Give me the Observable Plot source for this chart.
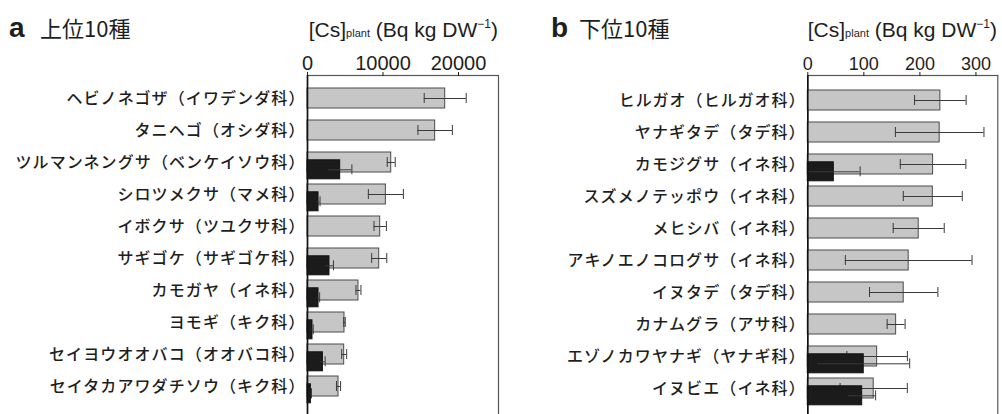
<!DOCTYPE html>
<html><head><meta charset="utf-8">
<script src="https://cdn.jsdelivr.net/npm/d3@7"></script>
<script src="https://cdn.jsdelivr.net/npm/@observablehq/plot@0.6"></script>
<style>
html,body{margin:0;padding:0;background:#fff;overflow:hidden}
#wrap{position:relative;width:1002px;height:414px;overflow:hidden}
#pa,#pb{position:absolute;top:0}
#pa{left:0}#pb{left:501px}
#over{position:absolute;left:0;top:0}
#over text{fill:#1e1e1e;font-family:"Liberation Sans","Noto Sans CJK JP",sans-serif}
g[aria-label="y-axis tick label"] text{letter-spacing:1.1px;font-weight:500}
</style></head><body>
<div id="wrap">
<div id="pa"></div><div id="pb"></div>
<svg id="over" width="1002" height="414">
  <text x="9" y="37" font-size="28" font-weight="bold">a</text>
  <text x="40" y="37" font-size="22" style="font-family:'Noto Sans CJK JP','Liberation Sans'">上位10種</text>
  <text x="551" y="37" font-size="28" font-weight="bold">b</text>
  <text x="579" y="37" font-size="22" style="font-family:'Noto Sans CJK JP','Liberation Sans'">下位10種</text>
  <text x="498" y="37" font-size="21" text-anchor="end">[Cs]<tspan font-size="11">plant</tspan> (Bq kg DW<tspan font-size="12" dy="-9">−1</tspan><tspan dy="9">)</tspan></text>
  <text x="997" y="37" font-size="21" text-anchor="end">[Cs]<tspan font-size="11">plant</tspan> (Bq kg DW<tspan font-size="12" dy="-9">−1</tspan><tspan dy="9">)</tspan></text>
</svg>
</div>
<script>
// Panel a: top 10 species
const namesA = ["ヘビノネゴザ（イワデンダ科）","タニヘゴ（オシダ科）","ツルマンネングサ（ベンケイソウ科）","シロツメクサ（マメ科）","イボクサ（ツユクサ科）","サギゴケ（サギゴケ科）","カモガヤ（イネ科）","ヨモギ（キク科）","セイヨウオオバコ（オオバコ科）","セイタカアワダチソウ（キク科）"];
const grayA    = [18240, 16910, 11090, 10380, 9630, 9500, 6750, 4900, 4860, 4110];
const grayErrA = [2780, 2280, 530, 2320, 820, 1000, 330, 100, 330, 270];
const blackA   = [null, null, 4330, 1460, null, 2910, 1460, 660, 2040, 450];
const blackErrA= [null, null, 1550, 200, null, 530, 150, 100, 300, 80];
const ticksA = [0, 10000, 20000];

// Panel b: bottom 10 species
const namesB = ["ヒルガオ（ヒルガオ科）","ヤナギタデ（タデ科）","カモジグサ（イネ科）","スズメノテッポウ（イネ科）","メヒシバ（イネ科）","アキノエノコログサ（イネ科）","イヌタデ（タデ科）","カナムグラ（アサ科）","エゾノカワヤナギ（ヤナギ科）","イヌビエ（イネ科）"];
const grayB    = [236.5, 235.3, 223.5, 223, 197.9, 180, 171.1, 157.6, 123.7, 117.6];
const grayErrB = [46, 79, 58.5, 52.6, 45.5, 113, 61, 16, 54, 60];
const blackB   = [null, null, 46.4, null, null, null, null, null, 99.8, 97];
const blackErrB= [null, null, 47, null, null, null, null, null, 82, 24];
const ticksB = [0, 100, 200, 300];

function panel(names, gray, grayErr, black, blackErr, o) {
  const rows = names.map((n, i) => ({name: n, g: gray[i], ge: grayErr[i], b: black[i], be: blackErr[i]}));
  const blk = rows.filter(d => d.b != null);
  const off = 7.3;
  return Plot.plot({
    width: 501, height: 414,
    marginTop: 75, marginBottom: -8, marginLeft: o.ml, marginRight: o.mr,
    style: {fontFamily: '"Liberation Sans","Noto Sans CJK JP",sans-serif', color: "#1e1e1e", background: "transparent", overflow: "hidden"},
    x: {domain: [0, o.max]},
    y: {type: "band", domain: names, range: o.yr, padding: 0},
    marks: [
      Plot.frame({stroke: "#555", strokeWidth: 1.2}),
      Plot.barX(rows, {y: "name", x: "g", fill: "#c6c6c6", stroke: "#4a4a4a", strokeWidth: 1, insetTop: 6, insetBottom: 6}),
      Plot.ruleY(rows, {y: "name", x1: d => d.g - d.ge, x2: d => d.g + d.ge, stroke: "#3a3a3a", strokeWidth: 1}),
      Plot.tickX(rows, {y: "name", x: d => d.g - d.ge, stroke: "#3a3a3a", insetTop: 11, insetBottom: 11}),
      Plot.tickX(rows, {y: "name", x: d => d.g + d.ge, stroke: "#3a3a3a", insetTop: 11, insetBottom: 11}),
      Plot.barX(blk, {y: "name", x: "b", fill: "#1b1b1b", stroke: "#111", strokeWidth: 1, insetTop: 6.5, insetBottom: 6.5, dy: off}),
      Plot.ruleY(blk, {y: "name", x1: d => d.b - d.be, x2: d => d.b + d.be, stroke: "#3a3a3a", strokeWidth: 1, dy: off}),
      Plot.tickX(blk, {y: "name", x: d => d.b + d.be, stroke: "#3a3a3a", insetTop: 11, insetBottom: 11, dy: off}),
      Plot.ruleX([0], {stroke: "#111", strokeWidth: 1.6}),
      Plot.axisX({anchor: "top", ticks: o.ticks, tickSize: 4, tickPadding: 2, fontSize: o.tfs, tickFormat: d => String(d), label: null}),
      Plot.axisY({tickSize: 0, tickPadding: 2, fontSize: 16, label: null})
    ]
  });
}

document.getElementById("pa").append(panel(namesA, grayA, grayErrA, blackA, blackErrA,
  {ml: 307, mr: 3, max: 25300, ticks: ticksA, yr: [81.3, 402.3], tfs: 20}));
document.getElementById("pb").append(panel(namesB, grayB, grayErrB, blackB, blackErrB,
  {ml: 306.3, mr: 4.7, max: 339, ticks: ticksB, yr: [84, 404.8], tfs: 18}));
</script>
</body></html>
